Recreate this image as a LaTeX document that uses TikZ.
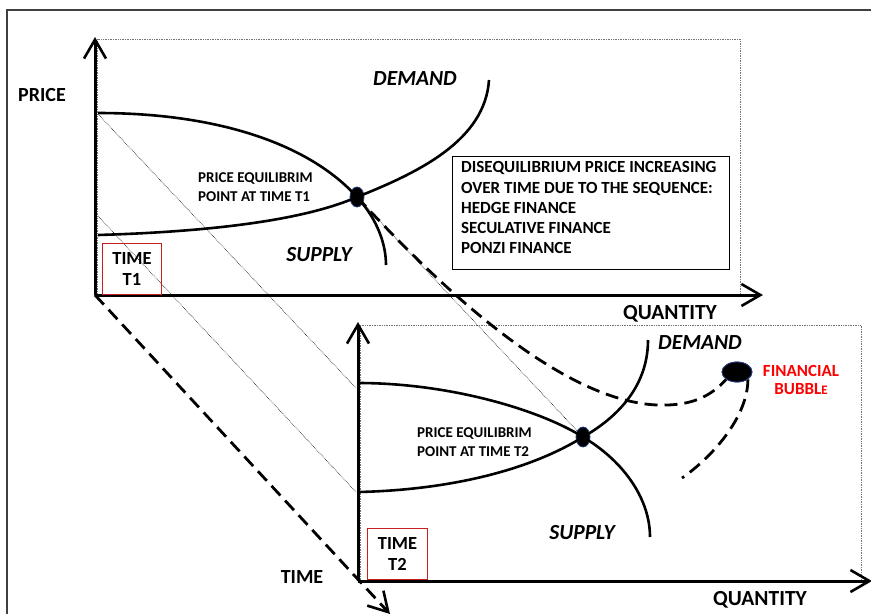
\documentclass[tikz,border=0pt]{standalone}
\usepackage{fontspec}
\setmainfont{Carlito}
\usetikzlibrary{arrows.meta,shapes.geometric}
\definecolor{boxred}{RGB}{200,30,30}
\definecolor{dotblue}{RGB}{40,60,120}
\begin{document}
\begin{tikzpicture}[x=1pt,y=-1pt,
  axis/.style={line width=3pt,-{Straight Barb[length=19pt,width=22pt,line width=2.6pt]}},
  curve/.style={line width=2.6pt},
  guide/.style={line width=0.6pt,densely dotted},
  plotframe/.style={draw=black!55,line width=0.7pt,densely dotted},
  dashline/.style={line width=2.8pt,dash pattern=on 13pt off 7pt},
  lbl/.style={font=\bfseries\fontsize{20}{24}\selectfont,inner sep=0pt},
  qlbl/.style={font=\bfseries\fontsize{21.5}{24}\selectfont,inner sep=0pt},
  ilbl/.style={font=\bfseries\itshape\fontsize{21.5}{24}\selectfont,inner sep=0pt},
  small/.style={font=\bfseries\fontsize{15}{19}\selectfont,inner sep=0pt,align=left,anchor=west},
  timebox/.style={draw=boxred,line width=1pt,font=\bfseries\fontsize{18.5}{21}\selectfont,align=center,inner sep=0pt,minimum width=59pt,minimum height=51pt},
  dot/.style={ellipse,fill=black,draw=dotblue,line width=0.8pt,inner sep=0pt},
  redlbl/.style={font=\bfseries\fontsize{17}{18}\selectfont,text=red,align=center,inner sep=0pt}
]
\useasboundingbox (0,0) rectangle (871,614);
% outer frame
\draw[draw=black!75,line width=1.5pt] (7,614) -- (7,10) -- (871,10);

% dotted plot frames
\draw[plotframe] (97,295) -- (97,39) -- (740,39) -- (740,295);
\draw[plotframe] (360,580) -- (360,325) -- (861,325) -- (861,580);

% coordinates
\coordinate (O1) at (95,295);
\coordinate (O2) at (358,581);
\coordinate (Y1) at (95,37);
\coordinate (X1) at (763,295);
\coordinate (Y2) at (358,322);
\coordinate (X2) at (872,581);
\coordinate (T) at (390,614);
\coordinate (S1s) at (98,113);
\coordinate (S1e) at (386,265);
\coordinate (D1s) at (98,235);
\coordinate (D1e) at (489,80);
\coordinate (S2s) at (358,383);
\coordinate (S2e) at (650,537);
\coordinate (D2s) at (358,492);
\coordinate (D2e) at (648,340);
\coordinate (G1a) at (98,114);
\coordinate (G1b) at (356,388);
\coordinate (G2a) at (98,216);
\coordinate (G2b) at (356,492);
\coordinate (R1) at (682,478);

% equilibrium dots and bubble
\node[dot,minimum width=14pt,minimum height=20pt] (E1) at (357,197) {};
\node[dot,minimum width=14pt,minimum height=20pt] (E2) at (583,437) {};
\node[dot,minimum width=30pt,minimum height=20pt] (B) at (737,372) {};

% thin guides
\draw[guide] (G1a) -- (G1b);
\draw[guide] (G2a) -- (G2b);
\draw[guide] (E1.center) -- (E2.center);

% time axis
\draw[dashline,-{Straight Barb[length=19pt,width=22pt,line width=2.6pt]}] (O1) -- (T);

% axes
\draw[axis] (O1) -- (Y1);
\draw[axis] (O1) -- (X1);
\draw[axis] (O2) -- (Y2);
\draw[axis] (O2) -- (X2);

% curves upper
\draw[curve] (S1s) .. controls (220,113) and (310,145) .. (E1.center)
  .. controls (378,220) and (386,245) .. (S1e);
\draw[curve] (D1s) .. controls (200,232) and (300,222) .. (E1.center)
  .. controls (420,172) and (485,140) .. (D1e);
% curves lower
\draw[curve] (S2s) .. controls (450,383) and (540,410) .. (E2.center)
  .. controls (625,462) and (650,500) .. (S2e);
\draw[curve] (D2s) .. controls (450,490) and (530,470) .. (E2.center)
  .. controls (625,413) and (648,380) .. (D2e);

% bubble paths
\draw[dashline] (E1.center) .. controls (420,265) and (560,410) .. (668,405)
  .. controls (695,404) and (712,395) .. (B.south west);
\draw[dashline] (B.south east) .. controls (748,415) and (715,455) .. (R1);
\node[dot,minimum width=30pt,minimum height=20pt] (B2) at (737,372) {};

% labels
\node[lbl] (price) at (42,95) {PRICE};
\node[ilbl] (dem1) at (415,79) {DEMAND};
\node[ilbl] (sup1) at (319,255) {SUPPLY};
\node[ilbl] (dem2) at (700,343) {DEMAND};
\node[ilbl] (sup2) at (582,533) {SUPPLY};
\node[qlbl] (q1) at (670,314) {QUANTITY};
\node[qlbl] (q2) at (760,600) {QUANTITY};
\node[lbl] (time) at (302,577) {TIME};
\node[small] (eq1) at (198,187) {PRICE EQUILIBRIM\\POINT AT TIME T1};
\node[small] (eq2) at (417,442) {PRICE EQUILIBRIM\\POINT AT TIME T2};
\node[timebox,anchor=south west] (t1) at (102,295) {TIME\\T1};
\node[timebox,anchor=south west,minimum width=60pt] (t2) at (367,580) {TIME\\T2};
\node[redlbl] (fb) at (801,380) {FINANCIAL\\BUBBL{\fontsize{13}{18}\selectfont E}};
\node[draw,line width=0.9pt,anchor=north west,minimum width=277pt,minimum height=113pt,inner sep=0pt] (box) at (452,156) {};
\node[font=\bfseries\fontsize{17}{20.2}\selectfont,align=left,anchor=north west,inner sep=0pt] (boxtext) at (461,161.5)
  {DISEQUILIBRIUM PRICE INCREASING\\OVER TIME DUE TO THE SEQUENCE:\\HEDGE FINANCE\\SECULATIVE FINANCE\\PONZI FINANCE};
\end{tikzpicture}
\end{document}
